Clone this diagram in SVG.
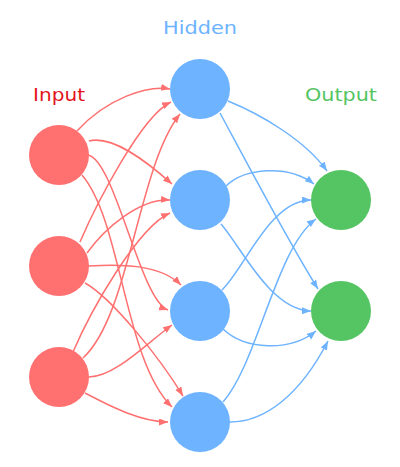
<svg xmlns="http://www.w3.org/2000/svg" width="400" height="467" viewBox="0 0 400 467">
<style>
.lbl{font-family:"DejaVu Sans","Liberation Sans",sans-serif;font-size:18px;text-anchor:middle}
.er{fill:none;stroke:#ff7070;stroke-width:1.5;marker-end:url(#ar)}
.eb{fill:none;stroke:#6db3ff;stroke-width:1.5;marker-end:url(#ab)}
.in{fill:#ff7070}
.hd{fill:#6db3ff}
.out{fill:#55c563}
</style>
<defs>
<marker id="ar" markerUnits="userSpaceOnUse" markerWidth="10" markerHeight="8" refX="9" refY="3.5" orient="auto"><path d="M0,0 L9,3.5 L0,7 z" fill="#ff7070"/></marker>
<marker id="ab" markerUnits="userSpaceOnUse" markerWidth="10" markerHeight="8" refX="9" refY="3.5" orient="auto"><path d="M0,0 L9,3.5 L0,7 z" fill="#6db3ff"/></marker>
</defs>
<rect width="400" height="467" fill="#ffffff"/>
<text class="lbl" x="59" y="101" fill="#e3141c" textLength="52" lengthAdjust="spacingAndGlyphs">Input</text>
<text class="lbl" x="200" y="34" fill="#6db3ff" textLength="74" lengthAdjust="spacingAndGlyphs">Hidden</text>
<text class="lbl" x="341" y="101" fill="#55c563" textLength="72" lengthAdjust="spacingAndGlyphs">Output</text>
<g id="connectors">
<path class="er" d="M77,131 C107,98 148,85 170,89"/>
<path class="er" d="M89,141 C112,135 145,160 172,184"/>
<path class="er" d="M88,155 C115,160 140,300 168,310"/>
<path class="er" d="M82,175 C122,222 124,360 172,407"/>
<path class="er" d="M80,242 C95,207 141,116 171,102"/>
<path class="er" d="M87,253 C105,228 140,198 170,200"/>
<path class="er" d="M89,266 C120,264 160,264 181,285"/>
<path class="er" d="M85,283 C112,298 160,358 183,396"/>
<path class="er" d="M83,358 C130,315 138,166 180,114"/>
<path class="er" d="M73,352 C91,310 138,227 170,213"/>
<path class="er" d="M89,377 C115,377 148,342 172,325"/>
<path class="er" d="M85,393 C110,406 140,422 168,422"/>
<path class="eb" d="M228,101 C260,114 305,140 327,171"/>
<path class="eb" d="M220,113 C240,150 290,245 318,289"/>
<path class="eb" d="M226,186 C244,168 288,164 314,184"/>
<path class="eb" d="M221,224 C240,245 270,310 311,311"/>
<path class="eb" d="M222,290 C245,268 270,200 311,200"/>
<path class="eb" d="M223,329 C245,350 290,352 316,331"/>
<path class="eb" d="M223,402 C258,362 276,248 316,219"/>
<path class="eb" d="M230,422 C265,422 300,395 328,341"/>
</g>
<g id="input1"><circle class="in" cx="59" cy="155" r="30"/></g>
<g id="input2"><circle class="in" cx="59" cy="266" r="30"/></g>
<g id="input3"><circle class="in" cx="59" cy="377" r="30"/></g>
<g id="hidden1"><circle class="hd" cx="200" cy="89" r="30"/></g>
<g id="hidden2"><circle class="hd" cx="200" cy="200" r="30"/></g>
<g id="hidden3"><circle class="hd" cx="200" cy="311" r="30"/></g>
<g id="hidden4"><circle class="hd" cx="200" cy="422" r="30"/></g>
<g id="output1"><circle class="out" cx="341" cy="200" r="30"/></g>
<g id="output2"><circle class="out" cx="341" cy="311" r="30"/></g>
</svg>
